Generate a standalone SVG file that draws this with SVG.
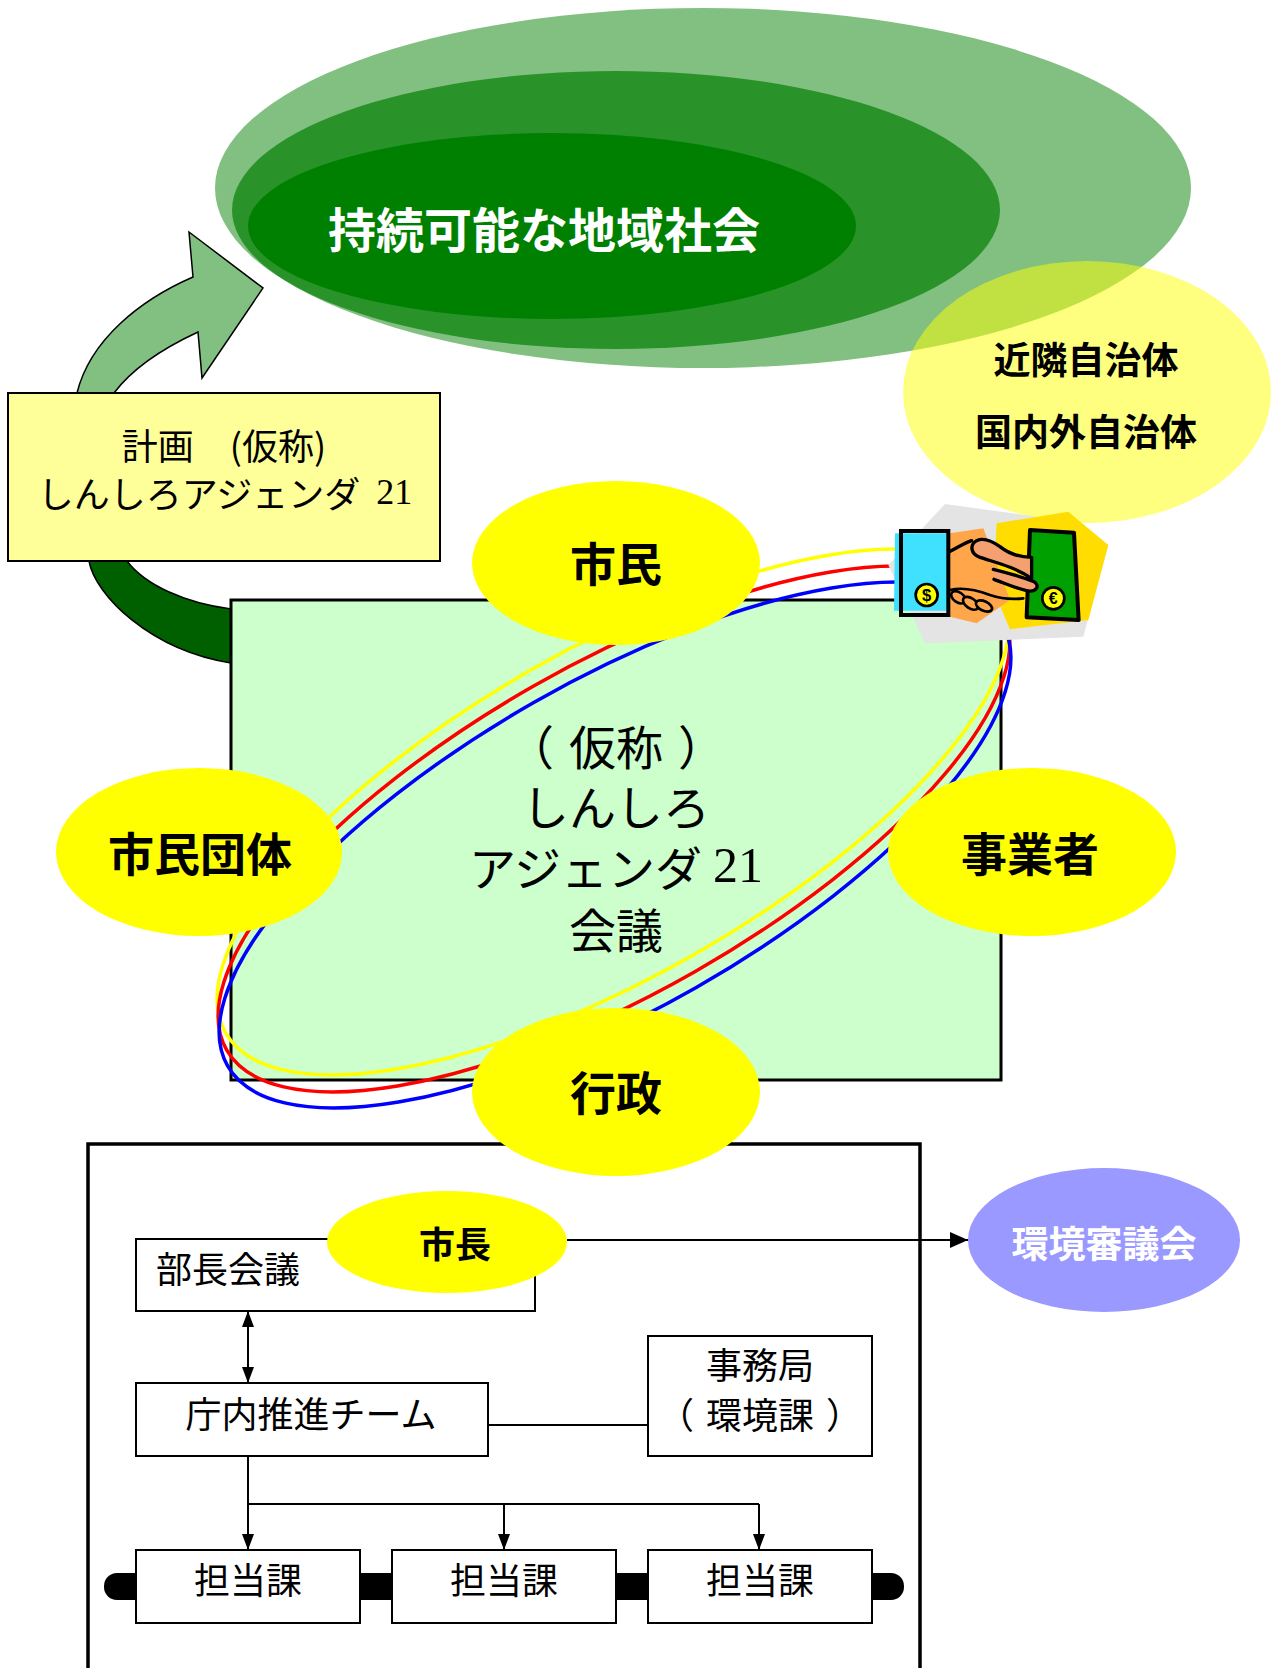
<svg xmlns="http://www.w3.org/2000/svg" width="1275" height="1668" viewBox="0 0 1275 1668">
  <style>
    .jp { font-family: "Noto Sans CJK JP", "Noto Sans", sans-serif; dominant-baseline: central; text-anchor: middle; }
    .b { font-weight: bold; }
    .num { font-family: "Liberation Serif", serif; }
    .box { fill: #ffffff; stroke: #000; stroke-width: 2; }
    .node { fill: #ffff00; }
    .ln { fill: none; stroke: #000; stroke-width: 2; }
    .ring { fill: none; stroke-width: 3.5; }
  </style>
  <defs>
    <marker id="ah" markerUnits="userSpaceOnUse" markerWidth="16" markerHeight="12" refX="16" refY="6" orient="auto-start-reverse">
      <path d="M0,0 L16,6 L0,12 z" fill="#000"/>
    </marker>
    <marker id="ahBig" markerUnits="userSpaceOnUse" markerWidth="18" markerHeight="16" refX="18" refY="8" orient="auto">
      <path d="M0,0 L18,8 L0,16 z" fill="#000"/>
    </marker>
  </defs>

  <rect width="1275" height="1668" fill="#ffffff"/>

  <!-- goal: nested green ellipses -->
  <g id="goal">
    <ellipse cx="703" cy="188" rx="488" ry="180" fill="#82c082"/>
    <ellipse cx="616" cy="210" rx="384" ry="139" fill="#29932a"/>
    <ellipse cx="552" cy="226" rx="304" ry="93" fill="#008000"/>
    <text class="jp b" x="544" y="227" font-size="48" fill="#ffffff">持続可能な地域社会</text>
  </g>

  <!-- neighbouring municipalities -->
  <g id="municipalities">
    <ellipse cx="1087" cy="392" rx="184" ry="131" fill="#ffff00" fill-opacity="0.5"/>
    <text class="jp b" x="1086" y="358" font-size="37">近隣自治体</text>
    <text class="jp b" x="1086" y="430" font-size="37">国内外自治体</text>
  </g>

  <!-- cycle arrow: plan up to goal, council down to plan -->
  <g id="cycle">
    <path d="M77,393 C90,340 140,300 193,277 L189,232 L263,288 L202,378 L198,332 C170,345 135,365 114,393 Z" fill="#82c082" stroke="#000" stroke-width="1.5"/>
    <path d="M89,561 C95,595 150,650 231,663 L231,609 C185,603 145,585 127,561 Z" fill="#006000" stroke="#000" stroke-width="1.5"/>
  </g>

  <!-- plan box -->
  <g id="plan">
    <rect x="8" y="393" width="432" height="168" fill="#ffff99" stroke="#000" stroke-width="2"/>
    <text class="jp" x="224" y="444" font-size="36">計画　(仮称)</text>
    <text class="jp" x="225" y="492" font-size="36">しんしろアジェンダ<tspan class="num" dx="16">21</tspan></text>
  </g>

  <!-- council -->
  <g id="council">
    <rect x="231" y="600" width="770" height="480" fill="#ccffcc" stroke="#000" stroke-width="3"/>
    <text class="jp" x="616" y="744" font-size="47">（<tspan dx="15">仮称</tspan><tspan dx="15">）</tspan></text>
    <text class="jp" x="616" y="804" font-size="47">しんしろ</text>
    <text class="jp" x="616" y="865" font-size="47">アジェンダ<tspan class="num" dx="11" font-size="50">21</tspan></text>
    <text class="jp" x="616" y="927" font-size="47">会議</text>
  </g>

  <!-- partnership ring -->
  <g id="ring">
    <ellipse class="ring" cx="613" cy="812" rx="446" ry="164" transform="rotate(-29.7 613 812)" stroke="#ffff00"/>
    <ellipse class="ring" cx="614" cy="829" rx="446" ry="164" transform="rotate(-29.7 614 829)" stroke="#ff0000"/>
    <ellipse class="ring" cx="615" cy="845" rx="446" ry="164" transform="rotate(-29.7 615 845)" stroke="#0000ff"/>
  </g>

  <!-- handshake icon -->
  <g id="handshake" transform="translate(850 480) scale(0.3333)">
    <polygon points="285,72 560,110 775,195 700,470 225,490 115,255" fill="#e4e4e4"/>
    <polygon points="440,130 655,95 775,195 715,420 480,448 430,330" fill="#ffdd00"/>
    <polygon points="300,160 400,145 480,360 380,430 300,410" fill="#ffa54a"/>
    <polygon points="135,160 292,160 292,392 132,392" fill="#40e0ff"/>
    <rect x="153" y="153" width="142" height="252" fill="none" stroke="#000" stroke-width="12"/>
    <circle cx="230" cy="345" r="33" fill="#ffff00" stroke="#000" stroke-width="8"/>
    <text x="230" y="347" font-family="Liberation Sans, sans-serif" font-weight="bold" font-size="50" text-anchor="middle" dominant-baseline="central">$</text>
    <polygon points="540,150 672,158 686,420 530,412" fill="#00a000" stroke="#000" stroke-width="12" stroke-linejoin="round"/>
    <circle cx="610" cy="355" r="33" fill="#ffff00" stroke="#000" stroke-width="8"/>
    <text x="610" y="357" font-family="Liberation Sans, sans-serif" font-weight="bold" font-size="48" text-anchor="middle" dominant-baseline="central">€</text>
    <!-- lower hand: curled fingers -->
    <path d="M298,215 C320,205 340,190 365,182" fill="none" stroke="#000" stroke-width="10" stroke-linecap="round"/>
    <ellipse cx="325" cy="352" rx="24" ry="15" transform="rotate(35 325 352)" fill="#ffa54a" stroke="#000" stroke-width="8"/>
    <ellipse cx="362" cy="370" rx="26" ry="15" transform="rotate(35 362 370)" fill="#ffa54a" stroke="#000" stroke-width="8"/>
    <ellipse cx="402" cy="378" rx="26" ry="14" transform="rotate(25 402 378)" fill="#ffa54a" stroke="#000" stroke-width="8"/>
    <path d="M300,330 C340,320 380,330 420,345 C450,355 480,360 520,355" fill="none" stroke="#000" stroke-width="8" stroke-linecap="round"/>
    <!-- upper hand with thumb -->
    <path d="M545,232 C505,232 475,220 450,200 C425,182 400,172 380,182 C358,195 362,222 390,232 C420,242 450,250 480,262 C505,272 530,285 545,295 Z" fill="#f4a070" stroke="#000" stroke-width="10" stroke-linejoin="round"/>
    <path d="M430,268 C470,278 515,290 552,305 C572,318 558,338 530,332 C500,326 465,310 432,298" fill="#f4a070" stroke="#000" stroke-width="10" stroke-linecap="round"/>
  </g>

  <!-- administration frame -->
  <g id="admin">
    <rect x="88" y="1144" width="832" height="560" fill="#ffffff" stroke="#000" stroke-width="3.5"/>
  </g>

  <!-- stakeholders -->
  <g id="citizens">
    <ellipse class="node" cx="616" cy="563" rx="144" ry="82"/>
    <text class="jp b" x="616" y="561" font-size="46">市民</text>
  </g>
  <g id="groups">
    <ellipse class="node" cx="199" cy="852" rx="143" ry="84"/>
    <text class="jp b" x="200" y="851" font-size="46">市民団体</text>
  </g>
  <g id="business">
    <ellipse class="node" cx="1032" cy="852" rx="144" ry="84"/>
    <text class="jp b" x="1030" y="851" font-size="46">事業者</text>
  </g>
  <g id="government">
    <ellipse class="node" cx="616" cy="1092" rx="144" ry="84"/>
    <text class="jp b" x="616" y="1090" font-size="46">行政</text>
  </g>

  <!-- connectors -->
  <g id="connectors">
    <path class="ln" d="M567,1240 H968" marker-end="url(#ahBig)"/>
    <path class="ln" d="M248,1311 V1383" marker-start="url(#ah)" marker-end="url(#ah)"/>
    <path class="ln" d="M488,1425 H648"/>
    <path class="ln" d="M248,1456 V1550" marker-end="url(#ah)"/>
    <path class="ln" d="M248,1504 H759"/>
    <path class="ln" d="M504,1504 V1550" marker-end="url(#ah)"/>
    <path class="ln" d="M759,1504 V1550" marker-end="url(#ah)"/>
  </g>

  <g id="directors">
    <rect class="box" x="136" y="1239" width="399" height="72"/>
    <text class="jp" x="228" y="1267" font-size="36">部長会議</text>
  </g>
  <g id="mayor">
    <ellipse class="node" cx="447" cy="1242" rx="120" ry="51"/>
    <text class="jp b" x="455" y="1242" font-size="36">市長</text>
  </g>
  <g id="env-council">
    <ellipse cx="1104" cy="1240" rx="136" ry="72" fill="#9999ff"/>
    <text class="jp b" x="1104" y="1242" font-size="37" fill="#ffffff">環境審議会</text>
  </g>
  <g id="team">
    <rect class="box" x="136" y="1383" width="352" height="73"/>
    <text class="jp" x="311" y="1412" font-size="36">庁内推進チーム</text>
  </g>
  <g id="secretariat">
    <rect class="box" x="648" y="1336" width="224" height="120"/>
    <text class="jp" x="760" y="1363" font-size="36">事務局</text>
    <text class="jp" x="760" y="1413" font-size="36">（<tspan dx="12">環境課</tspan><tspan dx="12">）</tspan></text>
  </g>

  <!-- section link bar -->
  <g id="sections-bar">
    <rect x="104" y="1573" width="800" height="27" rx="13" fill="#000"/>
  </g>
  <g id="section-1">
    <rect class="box" x="136" y="1550" width="224" height="73"/>
    <text class="jp" x="248" y="1578" font-size="36">担当課</text>
  </g>
  <g id="section-2">
    <rect class="box" x="392" y="1550" width="224" height="73"/>
    <text class="jp" x="504" y="1578" font-size="36">担当課</text>
  </g>
  <g id="section-3">
    <rect class="box" x="648" y="1550" width="224" height="73"/>
    <text class="jp" x="760" y="1578" font-size="36">担当課</text>
  </g>
</svg>
